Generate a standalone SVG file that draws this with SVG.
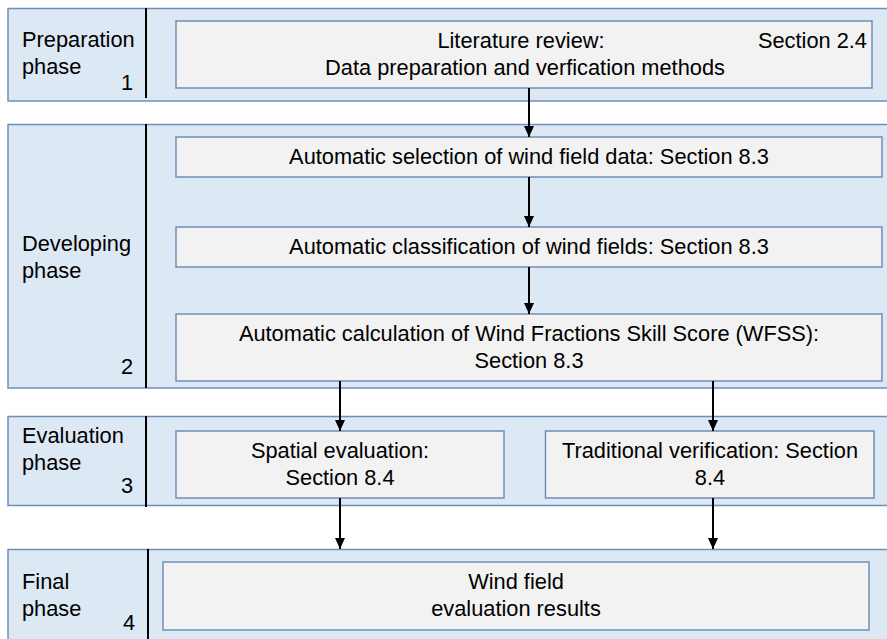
<svg xmlns="http://www.w3.org/2000/svg" width="887" height="639" viewBox="0 0 887 639">
<style>
.band{fill:#dde8f5;stroke:#6f8fb7;stroke-width:1.5}
.box{fill:#f2f2f2;stroke:#6f8fb7;stroke-width:1.5}
.div{stroke:#000;stroke-width:2}
text{font-family:"Liberation Sans",Arial,sans-serif;font-size:21.8px;fill:#000}
.c{text-anchor:middle}
.r{text-anchor:end}
.arr{stroke:#000;stroke-width:2;fill:none;marker-end:url(#ah)}
</style>
<defs>
<marker id="ah" markerWidth="11" markerHeight="10" refX="11" refY="5" orient="auto" markerUnits="userSpaceOnUse" viewBox="0 0 11 10">
<path d="M0,0 L11,5 L0,10 Z" fill="#000"/>
</marker>
</defs>
<rect width="887" height="639" fill="#fff"/>

<g id="band1">
<rect class="band" x="8" y="8.5" width="880" height="92.5"/>
<line class="div" x1="146" y1="8" x2="146" y2="98"/>
<text x="22" y="47">Preparation</text>
<text x="22" y="73.5">phase</text>
<text class="r" x="133" y="90">1</text>
</g>
<g id="lit">
<rect class="box" x="176" y="21" width="696" height="67"/>
<text class="c" x="521" y="48">Literature review:</text>
<text class="r" x="867" y="48">Section 2.4</text>
<text class="c" x="525" y="75">Data preparation and verfication methods</text>
</g>

<g id="band2">
<rect class="band" x="8" y="124.5" width="880" height="263.5"/>
<line class="div" x1="146" y1="124" x2="146" y2="388"/>
<text x="22" y="251">Developing</text>
<text x="22" y="277.5">phase</text>
<text class="r" x="133" y="374">2</text>
</g>
<g id="select">
<rect class="box" x="176" y="137" width="706" height="40"/>
<text class="c" x="529" y="164">Automatic selection of wind field data: Section 8.3</text>
</g>
<g id="classify">
<rect class="box" x="176" y="227" width="706" height="40"/>
<text class="c" x="529" y="254">Automatic classification of wind fields: Section 8.3</text>
</g>
<g id="wfss">
<rect class="box" x="176" y="314" width="706" height="67"/>
<text class="c" x="529" y="341">Automatic calculation of Wind Fractions Skill Score (WFSS):</text>
<text class="c" x="529" y="368">Section 8.3</text>
</g>

<g id="band3">
<rect class="band" x="8" y="416.5" width="880" height="89"/>
<line class="div" x1="146" y1="416" x2="146" y2="507"/>
<text x="22" y="443">Evaluation</text>
<text x="22" y="469.5">phase</text>
<text class="r" x="133" y="493">3</text>
</g>
<g id="spatial">
<rect class="box" x="176" y="431" width="328" height="67"/>
<text class="c" x="340" y="458">Spatial evaluation:</text>
<text class="c" x="340" y="485">Section 8.4</text>
</g>
<g id="traditional">
<rect class="box" x="545.5" y="431" width="328.5" height="67"/>
<text class="c" x="710" y="458">Traditional verification: Section</text>
<text class="c" x="710" y="485">8.4</text>
</g>

<g id="band4">
<rect class="band" x="8" y="549.5" width="880" height="95"/>
<line class="div" x1="148" y1="549" x2="148" y2="639"/>
<text x="22" y="589">Final</text>
<text x="22" y="616">phase</text>
<text class="r" x="135" y="630">4</text>
</g>
<g id="results">
<rect class="box" x="163" y="562" width="706" height="68"/>
<text class="c" x="516" y="589">Wind field</text>
<text class="c" x="516" y="616">evaluation results</text>
</g>

<g id="connectors">
<line class="arr" x1="529" y1="88" x2="529" y2="137"/>
<line class="arr" x1="529" y1="177" x2="529" y2="227"/>
<line class="arr" x1="529" y1="267" x2="529" y2="314"/>
<line class="arr" x1="340" y1="381" x2="340" y2="431"/>
<line class="arr" x1="713" y1="381" x2="713" y2="431"/>
<line class="arr" x1="340" y1="498" x2="340" y2="549"/>
<line class="arr" x1="713" y1="498" x2="713" y2="549"/>
</g>
</svg>
